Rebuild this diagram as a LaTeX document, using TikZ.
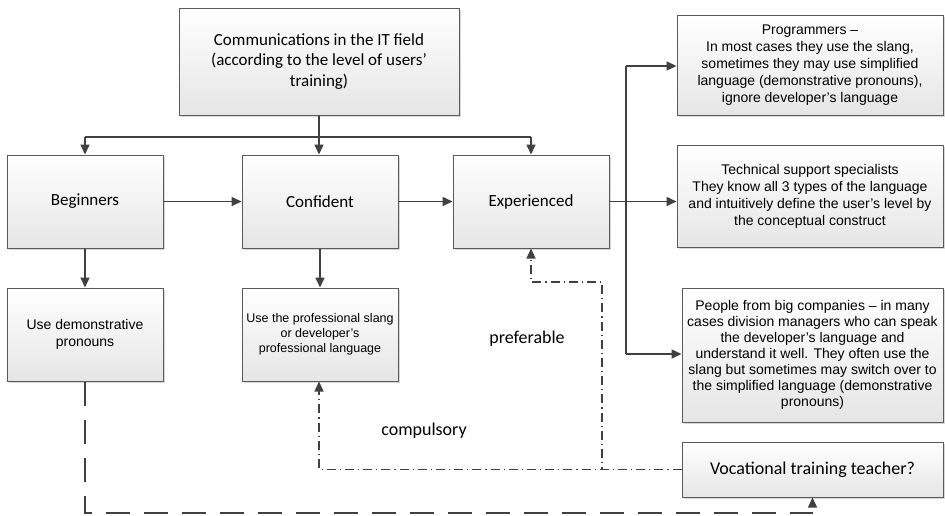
\documentclass[tikz,border=0pt]{standalone}
\usepackage{fontspec}
\setmainfont{Carlito}
\newfontfamily\arialf{Liberation Sans}
\usetikzlibrary{arrows.meta,shadows,calc}
\definecolor{linec}{HTML}{404040}
\definecolor{boxb}{HTML}{5A5A5A}
\tikzset{
  box/.style={draw=boxb, line width=1pt, top color=white, bottom color=black!10,
    drop shadow={shadow xshift=2pt, shadow yshift=-2pt, fill=black!25, opacity=0.6},
    align=center, inner sep=2pt, text=black},
  cal/.style={font=\fontsize{17}{20.5}\selectfont},
  ar/.style={font=\arialf\fontsize{14}{17}\selectfont},
  tip/.style={-{Triangle[length=10pt,width=9pt]}},
  conn/.style={draw=linec, line width=1.6pt, tip},
  plain/.style={draw=linec, line width=1.6pt},
  dashdot/.style={draw=linec, line width=1.4pt, dash pattern=on 9pt off 4pt on 1.2pt off 4pt},
  longdash/.style={draw=linec, line width=1.4pt, dash pattern=on 24pt off 14pt},
  lbl/.style={font=\fontsize{18}{21}\selectfont, text=black}
}
\begin{document}
\begin{tikzpicture}[x=1pt,y=-1pt]
\useasboundingbox[fill=white] (0,0) rectangle (945,515);
% boxes
\node[box,cal,minimum width=280pt,minimum height=107pt] (top) at (319,61.5)
  {Communications in the IT field\\(according to the level of users’\\training)};
\node[box,cal,minimum width=156pt,minimum height=93pt] (beg) at (85,201.5) {Beginners};
\node[box,cal,minimum width=156pt,minimum height=93pt] (conf) at (320,201.5) {Confident};
\node[box,cal,minimum width=156pt,minimum height=93pt] (exp) at (531,201.5) {Experienced};
\node[box,ar,minimum width=156pt,minimum height=93pt] (usedem) at (85,334.5)
  {Use demonstrative\\pronouns};
\node[box,font=\arialf\fontsize{12.5}{15}\selectfont,minimum width=156pt,minimum height=93pt] (useprof) at (320,334.5)
  {Use the professional slang\\or developer’s\\professional language};
\node[box,ar,minimum width=266pt,minimum height=100pt] (prog) at (810,65)
  {Programmers –\\In most cases they use the slang,\\sometimes they may use simplified\\language (demonstrative pronouns),\\ignore developer’s language};
\node[box,ar,minimum width=266pt,minimum height=102pt] (tech) at (810,196)
  {Technical support specialists\\They know all 3 types of the language\\and intuitively define the user’s level by\\the conceptual construct};
\node[box,font=\arialf\fontsize{14}{16}\selectfont,minimum width=261pt,minimum height=134pt] (people) at (812.5,355)
  {People from big companies – in many\\cases division managers who can speak\\the developer’s language and\\understand it well. They often use the\\slang but sometimes may switch over to\\the simplified language (demonstrative\\pronouns)};
\node[box,font=\fontsize{18}{21}\selectfont,minimum width=261pt,minimum height=55pt] (voc) at (812.5,469.5)
  {Vocational training teacher?};
% labels
\node[lbl] (pref) at (527,339) {preferable};
\node[lbl] (comp) at (424,431) {compulsory};
% coordinates
\coordinate (hb) at (319,137);
\coordinate (hl) at (85,137);
\coordinate (hr) at (531,137);
\coordinate (vx) at (626,201.5);
\coordinate (vt) at (626,66);
\coordinate (vb) at (626,354);
% tree connectors
\draw[plain] (top.south) -- (hb);
\draw[plain] (hl) -- (hr);
\draw[conn] (hl) -- (beg.north);
\draw[conn] (hb) -- (hb |- conf.north);
\draw[conn] (hr) -- (exp.north);
\draw[conn] (beg.east) -- (conf.west);
\draw[conn] (conf.east) -- (exp.west);
\draw[conn] (beg.south) -- (usedem.north);
\draw[conn] (conf.south) -- (useprof.north);
\draw[plain] (exp.east) -- (vx);
\draw[plain] (vt) -- (vb);
\draw[conn] (vt) -- (vt -| prog.west);
\draw[conn] (vx) -- (vx -| tech.west);
\draw[conn] (vb) -- (vb -| people.west);
% dash-dot connectors
\draw[dashdot,tip] (voc.west) -- (602,469.5) -- (602,282) -- (531,282) -- (exp.south);
\draw[dashdot,tip] (voc.west) -- (319,469.5) -- (useprof.south -| 319,0);
% long dashed
\draw[longdash,tip] (usedem.south) -- (85,513) -- (812.5,513) -- (voc.south);
\end{tikzpicture}
\end{document}
